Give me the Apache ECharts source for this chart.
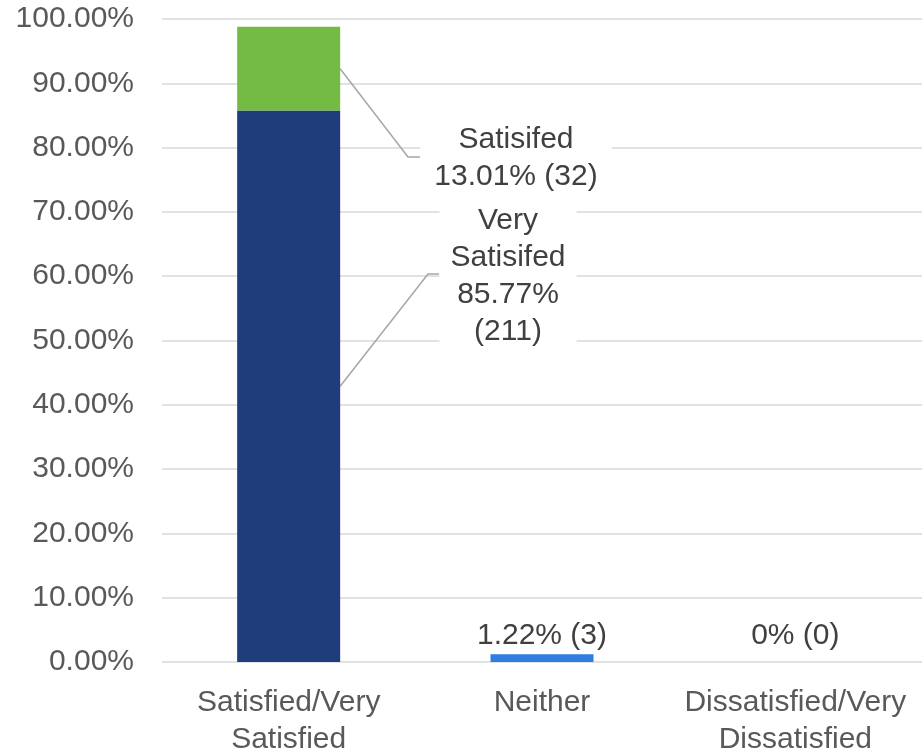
<!DOCTYPE html>
<html><head><meta charset="utf-8">
<script src="https://cdn.jsdelivr.net/npm/echarts@6/dist/echarts.min.js"></script>
<style>html,body{margin:0;padding:0;background:#fff}#c{width:922px;height:750px}</style>
</head><body><div id="c"></div>
<script>
// ---- data ----
const categories = ['Satisfied/Very\nSatisfied', 'Neither', 'Dissatisfied/Very\nDissatisfied'];
const verySatisfiedPct = [85.77, null, null];
const verySatisfiedCount = [211, null, null];
const satisfiedPct = [13.01, null, null];
const satisfiedCount = [32, null, null];
const neitherPct = [null, 1.22, null];
const neitherCount = [null, 3, null];
const dissatisfiedPct = [null, null, 0];
const dissatisfiedCount = [null, null, 0];
const labelNames = { verySatisfied: 'Very\nSatisifed', satisfied: 'Satisifed' };

// ---- style / layout ----
const FONT = 'Liberation Sans, Arial, sans-serif';
const FS = 30;
const AXIS_COLOR = '#595959';
const LABEL_COLOR = '#404040';
const GRID_COLOR = '#D9D9D9';
const BAR_W = 103;

const chart = echarts.init(document.getElementById('c'), null, { renderer: 'canvas' });

const option = {
  animation: false,
  backgroundColor: '#ffffff',
  grid: { left: 162, right: 0, top: 19, bottom: 88, containLabel: false, outerBoundsMode: 'none' },
  xAxis: {
    type: 'category',
    data: categories,
    axisLine: { show: false },
    axisTick: { show: false },
    axisLabel: { color: AXIS_COLOR, fontFamily: FONT, fontSize: FS, lineHeight: 37, margin: 22, interval: 0 }
  },
  yAxis: {
    type: 'value',
    min: 0, max: 100, interval: 10,
    axisLine: { show: false },
    axisTick: { show: false },
    splitLine: { lineStyle: { color: GRID_COLOR, width: 1.5 } },
    axisLabel: { color: AXIS_COLOR, fontFamily: FONT, fontSize: FS, margin: 28,
      formatter: v => v.toFixed(2) + '%' }
  },
  series: [
    {
      name: 'Very Satisfied', type: 'bar', stack: 'a', barWidth: BAR_W,
      data: verySatisfiedPct,
      itemStyle: { color: '#1F3D7A' },
      label: {
        show: true, color: LABEL_COLOR, fontFamily: FONT, fontSize: FS, lineHeight: 37,
        backgroundColor: '#ffffff', padding: [4, 11], align: 'center',
        formatter: p => labelNames.verySatisfied + '\n' + p.value + '%\n(' + verySatisfiedCount[p.dataIndex] + ')'
      },
      labelLayout: { x: 508, y: 276, align: 'center', verticalAlign: 'middle' }
    },
    {
      name: 'Satisfied', type: 'bar', stack: 'a', barWidth: BAR_W,
      data: satisfiedPct,
      itemStyle: { color: '#74BB43' },
      label: {
        show: true, color: LABEL_COLOR, fontFamily: FONT, fontSize: FS, lineHeight: 37,
        backgroundColor: '#ffffff', padding: [4, 14], align: 'center',
        formatter: p => labelNames.satisfied + '\n' + p.value + '% (' + satisfiedCount[p.dataIndex] + ')'
      },
      labelLayout: { x: 516, y: 158, align: 'center', verticalAlign: 'middle' }
    },
    {
      name: 'Neither', type: 'bar', stack: 'a', barWidth: BAR_W,
      data: neitherPct,
      itemStyle: { color: '#2E7DE1' },
      label: {
        show: true, position: 'top', distance: 3, color: LABEL_COLOR, fontFamily: FONT, fontSize: FS,
        formatter: p => p.value + '% (' + neitherCount[p.dataIndex] + ')'
      }
    },
    {
      name: 'Dissatisfied', type: 'bar', stack: 'a', barWidth: BAR_W,
      data: dissatisfiedPct,
      itemStyle: { color: '#A5A5A5' },
      label: {
        show: true, position: 'top', distance: 11, color: LABEL_COLOR, fontFamily: FONT, fontSize: FS,
        formatter: p => p.value + '% (' + dissatisfiedCount[p.dataIndex] + ')'
      }
    }
  ]
};
chart.setOption(option);

// leader lines from bar segment midpoints (via library scales) to label boxes
const half = BAR_W / 2;
const pSat = chart.convertToPixel({ gridIndex: 0 }, [0, verySatisfiedPct[0] + satisfiedPct[0] / 2]);
const pVery = chart.convertToPixel({ gridIndex: 0 }, [0, verySatisfiedPct[0] / 2]);
const lineStyle = { stroke: '#A6A6A6', lineWidth: 1.5, fill: null };
chart.setOption({
  graphic: [
    { type: 'polyline', z: 1, shape: { points: [[pSat[0] + half, pSat[1]], [408, 157], [420, 157]] }, style: lineStyle },
    { type: 'polyline', z: 1, shape: { points: [[pVery[0] + half, pVery[1]], [428, 274], [439, 274]] }, style: lineStyle }
  ]
});
</script>
</body></html>
